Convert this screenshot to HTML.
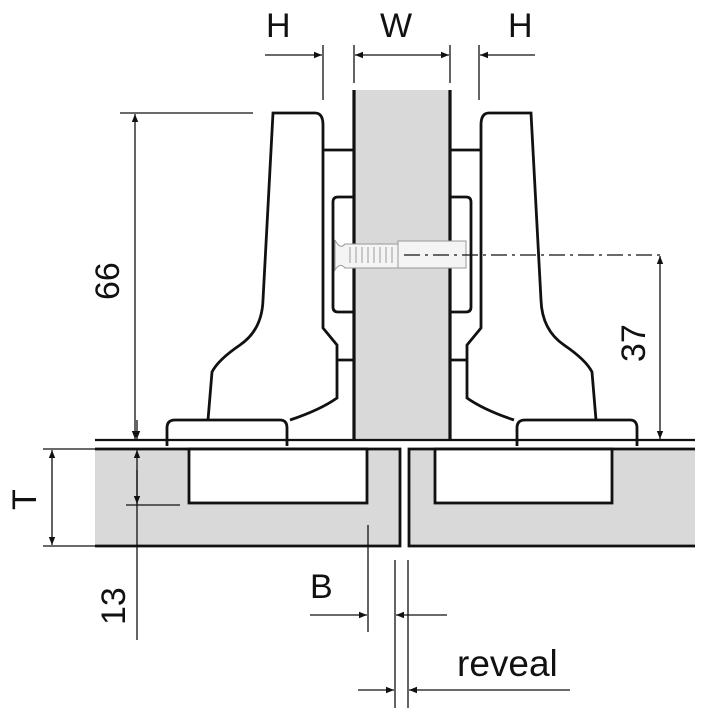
<!DOCTYPE html>
<html><head><style>html,body{margin:0;padding:0;background:#fff}svg{display:block}</style></head><body>
<svg width="701" height="708" viewBox="0 0 701 708" xmlns="http://www.w3.org/2000/svg" font-family="Liberation Sans, sans-serif">
<defs>
<marker id="a" viewBox="0 0 10 10" refX="10" refY="5" markerWidth="12" markerHeight="8" markerUnits="userSpaceOnUse" orient="auto"><path d="M0,1 L10,5 L0,9 z" fill="#111"/></marker>
</defs>
<rect width="701" height="708" fill="#fff"/>
<rect x="95" y="449" width="305" height="97" fill="#d9d9da"/>
<rect x="409" y="449" width="286" height="97" fill="#d9d9da"/>
<g stroke="#111" stroke-width="2.8" fill="none">
<path d="M95,449 H400 V546 H95"/>
<path d="M695,449 H409 V546 H695"/>
</g>
<rect x="189" y="449" width="178" height="54" fill="#fff" stroke="#111" stroke-width="2.8"/>
<rect x="435" y="449" width="177" height="54" fill="#fff" stroke="#111" stroke-width="2.8"/>
<rect x="354" y="90" width="96" height="350" fill="#d9d9da"/>
<g stroke="#111" stroke-width="2.8" fill="none">
<line x1="354" y1="90" x2="354" y2="440" stroke-width="3.2"/><line x1="450" y1="90" x2="450" y2="440" stroke-width="3.2"/>
<line x1="95" y1="440" x2="695" y2="440" stroke-width="2.2"/>
<path d="M208,420 L212,372 Q218,360 240,345 Q262,330 263,300 L273,113 H315 Q323,113 323,125 V328 L337,345 V360 L337,398 Q320,410 290,420"/>
<path d="M167,446 V428 Q167,420 175,420 H280 Q287,420 287,428 V446"/>
<line x1="323" y1="150" x2="354" y2="150"/>
<path d="M354,197 H338 Q333,197 333,202 V307 Q333,312 338,312 H354"/>
<line x1="337" y1="360" x2="354" y2="360"/>
<path d="M596,420 L592,372 Q586,360 564,345 Q542,330 541,300 L531,113 H489 Q481,113 481,125 V328 L467,345 V360 L467,398 Q484,410 514,420"/>
<path d="M517,446 V428 Q517,420 525,420 H630 Q637,420 637,428 V446"/>
<line x1="450" y1="150" x2="481" y2="150"/>
<path d="M450,197 H466 Q471,197 471,202 V307 Q471,312 466,312 H450"/>
<line x1="450" y1="360" x2="467" y2="360"/>
</g>
<g stroke="#999" stroke-width="1" fill="#f4f4f4">
<path d="M335,240 Q340,250 345,244 H398 V268 H345 Q340,262 335,270 z"/>
<rect x="398" y="241" width="68" height="27"/>
</g>
<g stroke="#aaa" stroke-width="1.2"><path d="M350,247v16M356,247v16M362,247v16M368,247v16M374,247v16M380,247v16M386,247v16M392,247v16"/></g>
<line x1="404" y1="255" x2="665" y2="255" stroke="#111" stroke-width="1.3" stroke-dasharray="16,5,3,5"/>
<g stroke="#111" stroke-width="1.3" fill="none">
<line x1="323" y1="45" x2="323" y2="100"/><line x1="354" y1="45" x2="354" y2="83"/><line x1="450" y1="45" x2="450" y2="83"/><line x1="479" y1="45" x2="479" y2="100"/>
<line x1="265" y1="55" x2="322" y2="55" marker-end="url(#a)"/>
<line x1="402" y1="55" x2="355" y2="55" marker-end="url(#a)"/>
<line x1="402" y1="55" x2="449" y2="55" marker-end="url(#a)"/>
<line x1="535" y1="55" x2="480" y2="55" marker-end="url(#a)"/>
<line x1="120" y1="113" x2="253" y2="113"/>
<line x1="135" y1="280" x2="135" y2="114" marker-end="url(#a)"/>
<line x1="135" y1="280" x2="135" y2="439" marker-end="url(#a)"/>
<line x1="660" y1="350" x2="660" y2="256" marker-end="url(#a)"/>
<line x1="660" y1="350" x2="660" y2="439" marker-end="url(#a)"/>
<line x1="43" y1="449" x2="95" y2="449"/><line x1="43" y1="546" x2="95" y2="546"/>
<line x1="52" y1="497" x2="52" y2="450" marker-end="url(#a)"/>
<line x1="52" y1="497" x2="52" y2="545" marker-end="url(#a)"/>
<line x1="137" y1="420" x2="137" y2="439" marker-end="url(#a)"/>
<line x1="137" y1="640" x2="137" y2="450" marker-end="url(#a)"/>
<line x1="137" y1="470" x2="137" y2="504" marker-end="url(#a)"/>
<line x1="126" y1="505" x2="180" y2="505"/>
<line x1="368" y1="525" x2="368" y2="632"/>
<line x1="310" y1="615" x2="367" y2="615" marker-end="url(#a)"/>
<line x1="395" y1="560" x2="395" y2="708"/><line x1="408" y1="560" x2="408" y2="708"/>
<line x1="447" y1="615" x2="396" y2="615" marker-end="url(#a)"/>
<line x1="358" y1="690" x2="394" y2="690" marker-end="url(#a)"/>
<line x1="570" y1="690" x2="409" y2="690" marker-end="url(#a)"/>
</g>
<g fill="#111" font-size="34">
<text x="266" y="37">H</text>
<text x="380" y="37">W</text>
<text x="508" y="37">H</text>
<text x="310" y="598">B</text>
<text x="457" y="676" font-size="37">reveal</text>
<text transform="translate(36,510) rotate(-90)">T</text>
<text transform="translate(119,300) rotate(-90)">66</text>
<text transform="translate(645,362) rotate(-90)">37</text>
<text transform="translate(125,625) rotate(-90)">13</text>
</g>
</svg>
</body></html>
